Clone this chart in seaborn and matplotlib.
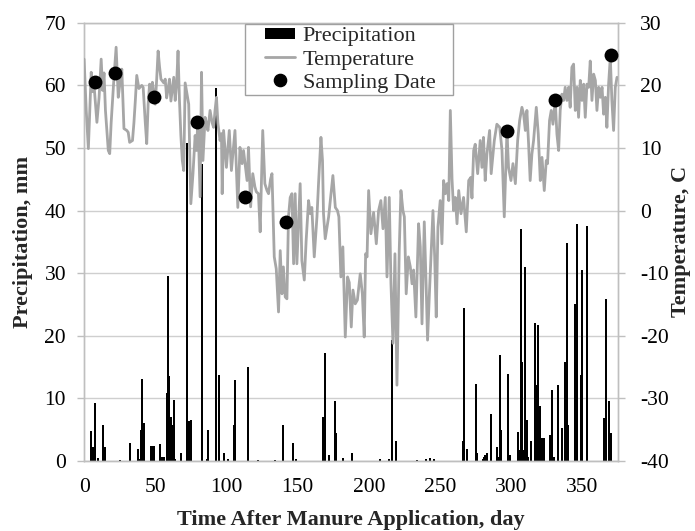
import matplotlib
matplotlib.use("Agg")
import matplotlib.pyplot as plt
import seaborn as sns
from matplotlib.lines import Line2D
from matplotlib.patches import Patch, Rectangle

# ---------------- data ----------------
precip_day = [5, 6, 8, 10, 13, 14, 15, 25, 32, 38, 39, 40, 41, 42, 47, 48, 49, 53, 55, 56,
              58, 59, 60, 61, 62, 63, 64, 68, 72, 74, 75, 83, 86, 87, 93, 95, 98, 101, 105, 106,
              115, 122, 134, 140, 147, 149, 168, 169, 172, 176, 177, 182, 188, 208, 214, 216, 219,
              234, 240, 243, 246, 266, 267, 269, 275, 276, 280, 281, 282, 283, 286, 290, 291, 292,
              293, 298, 299, 305, 306, 307, 308, 309, 310, 311, 312, 314, 317, 318, 319, 320, 321,
              322, 323, 327, 328, 329, 330, 333, 336, 338, 339, 340, 345, 346, 349, 350, 353, 365,
              367, 369, 370]
precip_mm = [4.7, 2.2, 9.3, 0.4, 5.7, 0.4, 2.2, 0.2, 2.9, 1.9, 0.3, 4.9, 13.1, 6.0, 2.4, 2.4, 2.4, 2.7, 0.7, 0.6,
             10.8, 29.5, 13.6, 7.0, 5.7, 9.7, 0.3, 1.2, 50.8, 6.4, 6.5, 47.5, 0.3, 4.9, 59.6, 13.8, 1.2, 0.3, 5.7, 12.9,
             15.0, 0.2, 0.2, 5.7, 2.8, 0.3, 7.0, 17.2, 0.9, 9.6, 4.5, 0.4, 1.2, 0.3, 0.3, 19.3, 3.2,
             0.2, 0.3, 0.5, 0.3, 3.2, 24.5, 1.9, 12.3, 1.2, 0.3, 0.6, 1.0, 1.2, 7.5, 2.2, 0.7, 16.9,
             4.9, 13.9, 1.0, 4.6, 1.8, 37.1, 15.8, 1.8, 31.0, 6.5, 0.7, 3.2, 22.1, 12.1, 21.7, 8.8, 3.6,
             3.6, 3.6, 4.1, 0.7, 11.3, 0.7, 12.1, 5.2, 15.8, 34.8, 5.7, 25.1, 37.9, 13.8, 30.5, 37.6, 6.8,
             25.8, 9.6, 4.5]

temp_day = [0, 1.5, 3, 5, 6, 7, 9, 10.5, 12, 13, 14, 15, 17, 18, 19, 21, 22.5, 24, 25, 26.5,
            28, 30, 31, 32, 34, 35, 36, 37, 38.5, 40.5, 41.5, 43, 44, 45, 46, 47, 48, 50, 51, 52,
            53, 54, 56, 57, 58, 59, 60, 61, 63, 64, 65, 66, 67, 68, 69, 70, 71, 72, 73.5, 74.5,
            75, 76.5, 78, 79, 80, 81.5, 82.5, 83.5, 85, 86, 87, 88.5, 90, 91, 92, 93, 94, 95.5, 96.5, 97,
            98, 100, 102, 103.5, 106, 108, 109.5, 111, 112, 114.5, 115.5, 117, 118.5, 120, 121, 122.5,
            123.7, 125.5, 127, 128.5, 129.6, 131, 132, 133.6, 135, 136.6, 137.8, 139, 140, 141.3, 142.5,
            143.6, 144.8, 146, 147.2, 148.3, 149.5, 150.5, 151.8, 153, 154.7, 156, 157.7, 158.9, 160,
            161.7, 163.6, 164.7, 166.4, 167.5, 168.2, 169.4, 171.8, 174.8, 176.5, 178, 179, 180.4,
            181.8, 183.5, 185.1, 186.3, 187.7, 188.9, 190.5, 192, 194, 195.5, 196.8, 197.8, 198.8,
            199.9, 201.5, 203.4, 205.3, 206.9, 208.5, 210, 211.6, 212.8, 214.4, 215.6, 217, 218.4,
            219.8, 221.4, 222.6, 224, 225, 226.3, 227.8, 229.2, 230.4, 231.5, 233.1, 235, 236.2,
            237.4, 239, 240.4, 241.3, 242.7, 245.1, 246.3, 247.4, 248.6, 250.2, 251.4, 252.6, 253.8,
            255, 256.2, 257.3, 258.5, 259.6, 260.8, 262, 263.2, 264.8, 266.6, 268.5, 270.2, 271.7,
            272.5, 273.7, 274.8, 276.5, 278.3, 279.5, 280.6, 281.8, 283, 284.9, 286, 288.2, 290, 292,
            293.6, 295.2, 296.3, 297.1, 298.2, 299.9, 301.3, 303, 304.6, 306, 307.6, 308.8, 310,
            311.1, 312.3, 313.4, 314.6, 315.8, 317.7, 319.1, 320.5, 321.7, 323.3, 324.7, 325.6, 327,
            328.2, 329.4, 331, 332.2, 333.4, 334.5, 335.7, 336.9, 338, 339.2, 340.4, 341.5, 342.7,
            343.9, 345.1, 346.3, 347.4, 348.6, 349.8, 351, 352.1, 353.3, 354.5, 355.6, 356.8, 358,
            359.2, 360.3, 361.5, 362.7, 363.9, 365, 366.2, 367.3, 368.5, 369.7, 370.8, 372, 373.2, 374.4]
temp_c = [24.2, 16, 9.9, 22.1, 19, 20, 14.1, 18, 24.2, 19.2, 22, 16, 9.6, 9.1, 14, 21.3, 26.1, 18.1, 20, 22.6,
          13.1, 12.8, 12.5, 10.9, 11.2, 14, 17.6, 21.6, 19.5, 20.0, 19.7, 14, 10.7, 17, 20.2, 19, 20.5, 17, 21, 25.5,
          23, 21, 20.4, 21, 18, 19.4, 21, 17.5, 21.3, 17.6, 20.2, 25.5, 17.6, 12, 8.0, 6.4, 20.4, 19, 17.0, 6.9,
          1.1, 5.9, 12, 9.6, 14.9, 2.2, 22.1, 8.0, 14.9, 14, 12.8, 16.0, 14, 13.3, 16, 18.1, 14, 11.2, 12.3, 2.7,
          12.8, 6.9, 12.8, 6.4, 12.8, 0.5, 10.1, 7.5, 9.6, 4.8, 10.1, 0.6, 5.9, 3.8, 3.0, 2.7,
          -3.4, 12.8, 4.3, 3.2, 2.7, 5.0, 5.9, -7.4, -9.3, -16.2, -6.4, -13.3, -9.0, -13.8, -14.1,
          -1.0, 2.1, 2.7, -8.5, 2.7, -8.5, -3.0, 4.3, -8.0, -11.1, -4.8, 1.6, -0.5, 0.5,
          -7.4, -1.0, 4.3, 11.7, 8.0, -0.5, -4.5, -1.0, 5.6, 0.5, 0.0, -1.0, -10.6,
          -5.8, -20.2, -10.6, -11.5, -18.6, -12.7, -14.9, -14.3, -10.1, -13.3, -20.2, -6.9, -7.4,
          3.2, -3.7, -0.3, -5.3, 0.0, 1.6, -2.9, 2.1, -10.6, 2.1, -11.7, -21.2, -6.9,
          -27.9, -6.4, 3.2, 0.0, -1.0, -13.3, -7.4, -9.0, -11.7, -9.5, -17.0, -2.1, -5.8,
          -18.1, -1.8, -12.7, -20.7, -12.7, 0.0, -7.4, -17.0, -2.6, 1.6, -5.3, 4.8, 2.7,
          4.3, 1.6, 16.0, 5.0, 0.0, 2.1, -2.1, 3.2, -0.5, 2.1, -3.4, 4.8, 5.3,
          2.0, 9.6, 10.6, 5.9, 11.2, 6.9, 11.7, 4.8, 9.0, 12.8, 5.9, 11.2, 13.8, 13.3,
          9.6, -1.0, 6.9, 12.7, 6.9, 4.8, 7.5, 4.3, 11.2, 14.4, 16.5, 15.4, 12.8,
          16.0, 10.6, 4.8, 9.0, 11.2, 16.5, 12.2, 4.8, 8.5, 3.2, 8.0, 7.5, 14.4,
          16.0, 13.8, 17.6, 12.2, 9.6, 16.0, 18.6, 17.6, 19.7, 17.6, 19.7, 16.5, 22.9,
          23.4, 16.0, 19.7, 14.9, 20.8, 17.6, 20.2, 14.9, 20.2, 19.7, 23.9, 17.6, 21.8,
          20.8, 16.0, 19.7, 18.1, 19.7, 15.4, 18.1, 13.3, 20.2, 24.5, 17.6, 12.8, 19.7, 21.3]

sample_day = [8, 22, 49, 79, 113, 142, 297, 331, 370]
sample_temp = [20.5, 22.0, 18.1, 14.1, 2.1, -1.8, 12.7, 17.7, 24.9]

x_ticks = [0, 50, 100, 150, 200, 250, 300, 350]
precip_ticks = [0, 10, 20, 30, 40, 50, 60, 70]
temp_ticks = [-40, -30, -20, -10, 0, 10, 20, 30]
legend_labels = ["Precipitation", "Temperature", "Sampling Date"]

# ---------------- style ----------------
sns.set_theme(style="white")
plt.rcParams["font.family"] = ["Liberation Serif", "DejaVu Serif"]
TICK_FS = 15.5
TITLE_FS = 16
LEG_FS = 16
GRID = "#CFCFCF"
AXC = "#BFBFBF"
TEMPC = "#A6A6A6"

fig, ax = plt.subplots(figsize=(6.95, 5.31), dpi=100)
fig.subplots_adjust(left=0.121, right=0.889, top=0.957, bottom=0.132)
ax2 = ax.twinx()

# precipitation bars
sns.histplot(x=precip_day, weights=precip_mm, discrete=True, shrink=1.4, ax=ax,
             color="black", alpha=1, linewidth=0, edgecolor="black", zorder=2)

# temperature line
sns.lineplot(x=temp_day, y=temp_c, ax=ax2, color=TEMPC, linewidth=2.0, zorder=3,
             estimator=None, sort=False)
# sampling dates
sns.scatterplot(x=sample_day, y=sample_temp, ax=ax2, color="black", s=100,
                edgecolor="black", linewidth=0, zorder=5)

ax.set_xlim(0, 375)
ax.set_ylim(0, 70)
ax2.set_ylim(-40, 30)
ax.set_xticks(x_ticks)
ax.set_yticks(precip_ticks)
ax2.set_yticks(temp_ticks)
ax.set_xticklabels([str(v) for v in x_ticks], fontsize=TICK_FS)
ax.set_yticklabels([str(v) for v in precip_ticks], fontsize=TICK_FS)
ax2.set_yticklabels([str(v) for v in temp_ticks], fontsize=TICK_FS)

ax.yaxis.grid(True, color=GRID, linewidth=1.0, zorder=0)
ax.xaxis.grid(False)
ax2.grid(False)
ax.set_axisbelow(True)

for a in (ax, ax2):
    for s in a.spines.values():
        s.set_color(AXC)
        s.set_linewidth(1.0)
ax.spines["top"].set_color(GRID)

ax.tick_params(axis="x", direction="out", length=3.5, width=1, color=AXC, pad=9, labelcolor="black")
ax.tick_params(axis="y", direction="out", length=5, width=1, color=AXC, pad=8, labelcolor="black")
ax2.tick_params(axis="y", direction="out", length=5, width=1, color=AXC, pad=11, labelcolor="black")

ax.set_xlabel("Time After Manure Application, day", fontsize=TITLE_FS, fontweight="bold", labelpad=9)
ax.set_ylabel("Precipitation, mm", fontsize=TITLE_FS, fontweight="bold", labelpad=8)
ax2.set_ylabel("Temperature, C", fontsize=TITLE_FS, fontweight="bold", labelpad=1.5)


# legend handlers drawing the key in the right part of the handle box (Excel-like left margin)
class OffsetKey:
    def __init__(self, kind, offset_pt=13.0, width_pt=21.6):
        self.kind = kind
        self.offset = offset_pt
        self.width = width_pt

    def legend_artist(self, legend, orig_handle, fontsize, handlebox):
        xd, yd = handlebox.xdescent, handlebox.ydescent
        h = handlebox.height
        yc = (h - 2 * yd) / 2.0
        x0 = -xd + self.offset
        if self.kind == "bar":
            ph = 8.0
            art = Rectangle((x0, yc - ph / 2), self.width, ph, facecolor="black", edgecolor="none")
        elif self.kind == "line":
            art = Line2D([x0, x0 + self.width], [yc, yc], color=TEMPC, linewidth=2.0)
        else:
            art = Line2D([x0 + self.width / 2], [yc], color="black", marker="o",
                         markersize=8.8, linestyle="none")
        handlebox.add_artist(art)
        return art


h_bar = Patch(facecolor="black")
h_line = Line2D([0], [0], color=TEMPC)
h_dot = Line2D([0], [0], color="black", marker="o", linestyle="none")
leg = ax2.legend([h_bar, h_line, h_dot], legend_labels,
                 handler_map={h_bar: OffsetKey("bar"), h_line: OffsetKey("line"), h_dot: OffsetKey("dot")},
                 loc="upper left", bbox_to_anchor=(0.3015, 0.0, 0.3895, 0.998), mode="expand",
                 frameon=True, fancybox=False, framealpha=1, edgecolor="#A0A0A0",
                 fontsize=LEG_FS, handlelength=2.2, handleheight=0.7, handletextpad=0.3,
                 labelspacing=0.12, borderpad=0.1, borderaxespad=0.0)
leg.get_frame().set_linewidth(1.0)

fig.savefig("out.png", dpi=100)
